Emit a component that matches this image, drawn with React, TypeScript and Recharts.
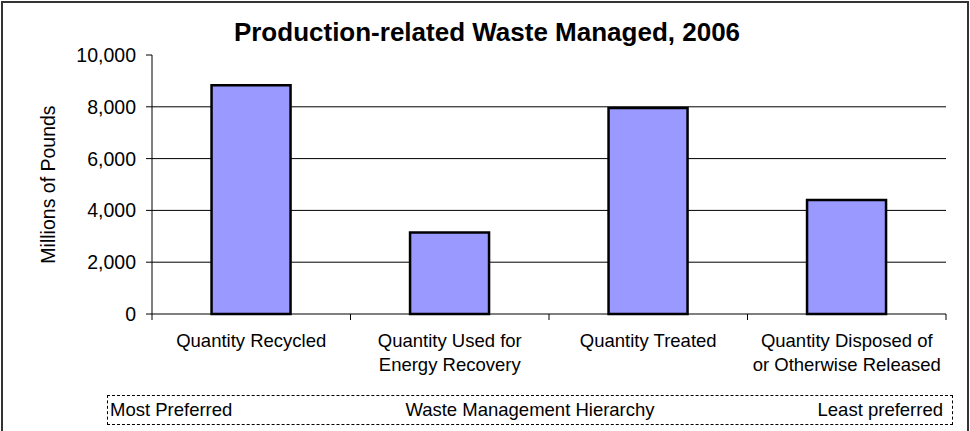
import React from "react";
import { BarChart, Bar, XAxis, YAxis, CartesianGrid } from "recharts";

const categories = [
  "Quantity Recycled",
  "Quantity Used for\nEnergy Recovery",
  "Quantity Treated",
  "Quantity Disposed of\nor Otherwise Released",
];
const wasteMillionsLbs = [8830, 3150, 7950, 4400];
const yTicks = [0, 2000, 4000, 6000, 8000, 10000];
const gridValues = [2000, 4000, 6000, 8000];
const hierarchyLabels = ["Most Preferred", "Waste Management Hierarchy", "Least preferred"];

const data = categories.map((name, i) => ({ name, value: wasteMillionsLbs[i] }));

const FONT = "'Liberation Sans', Arial, Helvetica, sans-serif";

function CategoryTick(props: any) {
  const { x, y, payload, index } = props;
  const half = payload.offset ?? 99;
  const lines = String(payload.value).split("\n");
  return (
    <g>
      <line x1={x - half} x2={x - half} y1={y} y2={y + 6} stroke="#000" />
      {index === categories.length - 1 && (
        <line x1={x + half} x2={x + half} y1={y} y2={y + 6} stroke="#000" />
      )}
      <text x={x} y={y + 33} textAnchor="middle" fontSize={18.5} fontFamily={FONT} fill="#000">
        {lines.map((l, i) => (
          <tspan key={i} x={x} dy={i === 0 ? 0 : 24}>
            {l}
          </tspan>
        ))}
      </text>
    </g>
  );
}

export default function App() {
  return (
    <div style={{ position: "absolute", left: 0, top: 0, width: 970, height: 431, background: "#fff", overflow: "hidden", fontFamily: FONT }}>
      <div
        style={{
          position: "absolute",
          left: 1,
          top: 1,
          width: 964,
          height: 460,
          border: "2px solid #333",
        }}
      />
      <div
        style={{
          position: "absolute",
          left: 0,
          width: 974,
          top: 17,
          textAlign: "center",
          fontSize: 26,
          fontWeight: "bold",
          color: "#000",
        }}
      >
        Production-related Waste Managed, 2006
      </div>
      <div style={{ position: "absolute", left: 0, top: 0 }}>
        <BarChart
          width={970}
          height={431}
          data={data}
          margin={{ top: 55, right: 24, left: 0, bottom: 0 }}
          barCategoryGap="30%"
        >
          <CartesianGrid vertical={false} horizontalValues={gridValues} stroke="#000" />
          <XAxis
            dataKey="name"
            height={117}
            interval={0}
            tickLine={false}
            tickSize={0}
            tickMargin={0}
            axisLine={{ stroke: "#000" }}
            tick={<CategoryTick />}
          />
          <YAxis
            width={152}
            domain={[0, 10000]}
            ticks={yTicks}
            interval={0}
            tickSize={6}
            tickMargin={10}
            tickLine={{ stroke: "#000" }}
            axisLine={{ stroke: "#000" }}
            tick={{ fontSize: 19.5, fill: "#000", fontFamily: FONT }}
            tickFormatter={(v: number) => v.toLocaleString("en-US")}
            label={{
              value: "Millions of Pounds",
              angle: -90,
              position: "insideLeft",
              offset: 48,
              style: { textAnchor: "middle", fontSize: 19.5, fill: "#000", fontFamily: FONT },
            }}
          />
          <Bar dataKey="value" fill="#9999FF" stroke="#000" strokeWidth={2.5} isAnimationActive={false} />
        </BarChart>
      </div>
      <div
        style={{
          position: "absolute",
          left: 107,
          top: 395,
          width: 844,
          height: 28,
          border: "1px dashed #000",
          fontSize: 18.5,
          color: "#000",
        }}
      >
        <span style={{ position: "absolute", left: 2, top: 3 }}>{hierarchyLabels[0]}</span>
        <span style={{ position: "absolute", left: 0, right: 0, top: 3, textAlign: "center" }}>{hierarchyLabels[1]}</span>
        <span style={{ position: "absolute", right: 9, top: 3 }}>{hierarchyLabels[2]}</span>
      </div>
    </div>
  );
}
